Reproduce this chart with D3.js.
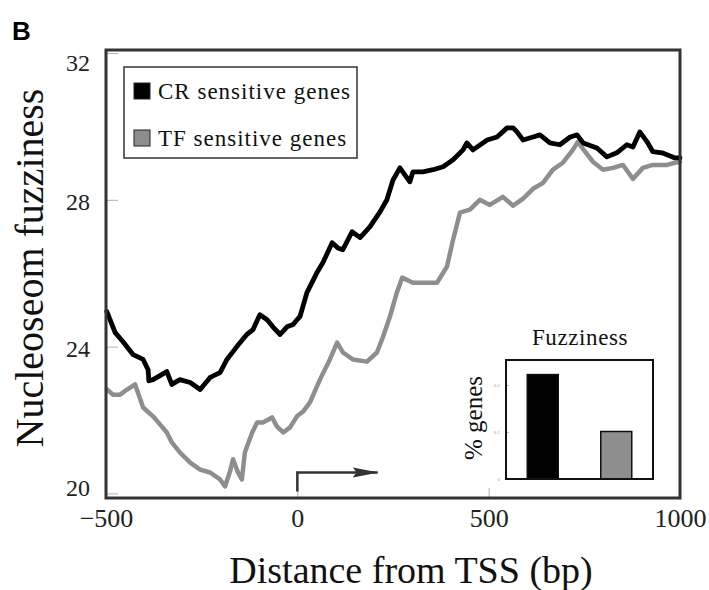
<!DOCTYPE html>
<html><head><meta charset="utf-8">
<script src="https://cdn.jsdelivr.net/npm/d3@7"></script>
<style>body{margin:0;background:#fff}svg{display:block}</style>
</head><body>
<svg id="c" width="709" height="590"></svg>
<script>
// ---- data ----
const crPos = [-498,-476,-456,-429,-403,-390,-388,-377,-341,-328,-307,-280,-254,-228,-202,-184,-158,-132,-116,-98,-79,-64,-45,-27,-11,-1,7,25,51,67,91,106,119,143,164,190,216,234,250,268,294,302,328,355,381,407,433,443,459,496,522,548,564,574,590,616,634,660,686,713,731,747,783,809,835,861,877,895,914,929,953,987,1000];
const crVal = [24.96,24.38,24.14,23.78,23.65,23.37,23.07,23.10,23.32,22.97,23.10,23.02,22.83,23.16,23.29,23.65,24.00,24.33,24.46,24.87,24.73,24.54,24.33,24.54,24.60,24.73,24.82,25.47,26.01,26.29,26.83,26.69,26.64,27.13,26.97,27.27,27.67,28.00,28.54,28.87,28.49,28.76,28.76,28.82,28.90,29.09,29.36,29.55,29.36,29.63,29.71,29.96,29.96,29.85,29.63,29.71,29.77,29.55,29.50,29.71,29.77,29.55,29.41,29.17,29.28,29.50,29.44,29.85,29.58,29.31,29.28,29.14,29.14];
const tfPos = [-497,-482,-463,-445,-424,-403,-377,-354,-341,-328,-307,-280,-254,-228,-202,-189,-176,-168,-155,-145,-137,-118,-105,-90,-66,-53,-37,-19,-1,15,33,59,85,104,119,145,182,208,224,242,260,274,302,328,365,391,407,425,451,477,503,537,564,590,616,642,668,694,720,733,752,773,799,825,851,877,903,929,966,987,1000];
const tfVal = [22.83,22.69,22.69,22.83,22.97,22.34,22.10,21.82,21.66,21.39,21.12,20.84,20.65,20.57,20.38,20.19,20.60,20.93,20.57,20.38,21.12,21.66,21.93,21.93,22.07,21.82,21.66,21.80,22.10,22.23,22.48,23.10,23.65,24.11,23.84,23.65,23.59,23.84,24.27,24.82,25.47,25.88,25.74,25.74,25.74,26.18,26.91,27.65,27.73,28.00,27.86,28.08,27.84,28.03,28.30,28.46,28.82,29.01,29.36,29.58,29.31,29.03,28.82,28.87,28.95,28.57,28.87,28.95,28.95,29.01,29.03];
const seriesNames = ["CR sensitive genes","TF sensitive genes"];
const xTicks = [-500,0,500,1000];
const yTicks = [20,24,28,32];
const insetCats = ["CR","TF"];
const insetVals = [0.222,0.101];
const insetTicks = [0,0.1,0.2];
const arrowPos = [0,0,210];
const arrowVal = [20.05,20.57,20.57];

// ---- layout ----
const svg = d3.select("#c");
const L=106,R=680,T=50,B=498;
const black="#000", gray="#8e8e8e";
const x = d3.scaleLinear().domain([-500,1000]).range([L,R]);
const y = d3.scaleLinear().domain([20,32]).range([493.4,53]);
const serif = "'Liberation Serif','Times New Roman',serif";

// panel label
svg.append("text").attr("x",12).attr("y",40).text("B")
  .attr("font-family","'Liberation Sans',Arial,sans-serif").attr("font-weight","bold").attr("font-size",26);

// axes
const ya = svg.append("g").attr("transform",`translate(${L},0)`)
  .call(d3.axisLeft(y).tickValues(yTicks).tickSize(-12).tickPadding(16).tickFormat(d3.format("d")));
ya.select(".domain").remove();
ya.selectAll("line").attr("stroke","#b0b0b0");
ya.selectAll("text").attr("font-family",serif).attr("font-size",24).attr("fill","#222")
  .attr("dy",d=> d===32? "0.72em" : d===20 ? "0.07em" : "0.42em");

const xa = svg.append("g").attr("transform",`translate(0,${B})`)
  .call(d3.axisBottom(x).tickValues(xTicks).tickSize(-10).tickFormat(d3.format("d")));
xa.select(".domain").remove();
xa.selectAll("line").attr("stroke","#b0b0b0");
xa.selectAll("text").attr("font-family",serif).attr("font-size",26).attr("fill","#222")
  .attr("y",29).attr("dy",0);

// titles
svg.append("text").attr("x",411).attr("y",583).attr("text-anchor","middle")
  .attr("font-family",serif).attr("font-size",38).attr("fill","#111").text("Distance from TSS (bp)");
svg.append("text").attr("transform","translate(43,268) rotate(-90)").attr("text-anchor","middle")
  .attr("font-family",serif).attr("font-size",40).attr("fill","#111").text("Nucleoseom fuzziness");

// lines
const line = d3.line().x(d=>x(d[0])).y(d=>y(d[1]));
const crData = crPos.map((p,i)=>[p,crVal[i]]);
const tfData = tfPos.map((p,i)=>[p,tfVal[i]]);
svg.append("path").datum(tfData).attr("d",line).attr("fill","none").attr("stroke",gray)
  .attr("stroke-width",4.5).attr("stroke-linejoin","round").attr("stroke-linecap","round");
svg.append("path").datum(crData).attr("d",line).attr("fill","none").attr("stroke",black)
  .attr("stroke-width",4.8).attr("stroke-linejoin","round").attr("stroke-linecap","round");

// TSS arrow
svg.append("defs").append("marker").attr("id","ah").attr("viewBox","0 0 26 12")
  .attr("refX",25).attr("refY",6).attr("markerWidth",26).attr("markerHeight",12)
  .attr("markerUnits","userSpaceOnUse").attr("orient","auto")
  .append("path").attr("d","M0,1 L26,6 L0,11 L4,6 Z").attr("fill","#333");
svg.append("path").datum(arrowPos.map((p,i)=>[p,arrowVal[i]])).attr("d",line)
  .attr("fill","none").attr("stroke","#333").attr("stroke-width",2.5).attr("marker-end","url(#ah)");

// frame
svg.append("rect").attr("x",L).attr("y",T).attr("width",R-L).attr("height",B-T)
  .attr("fill","none").attr("stroke","#333").attr("stroke-width",3);

// legend
const lg = svg.append("g");
lg.append("rect").attr("x",124).attr("y",67).attr("width",233).attr("height",91)
  .attr("fill","#fff").attr("stroke","#333").attr("stroke-width",1.5);
seriesNames.forEach((n,i)=>{
  const cy = 91 + i*47;
  lg.append("rect").attr("x",134).attr("y",cy-8).attr("width",16).attr("height",16)
    .attr("fill",i?gray:black).attr("stroke","#222").attr("stroke-width",1);
  lg.append("text").attr("x",158).attr("y",cy+8).attr("font-family",serif).attr("font-size",23)
    .attr("letter-spacing",1).attr("fill","#111").text(n);
});

// inset
const iL=506,iR=653,iT=360,iB=479;
const ix = d3.scalePoint().domain(insetCats).range([iL,iR]).padding(0.5);
const iy = d3.scaleLinear().domain([0,0.253]).range([iB,iT]);
const bw = 31;
svg.selectAll(".ibar").data(insetCats).enter().append("rect").attr("class","ibar")
  .attr("x",d=>ix(d)-bw/2).attr("width",bw)
  .attr("y",(d,i)=>iy(insetVals[i])).attr("height",(d,i)=>iB-iy(insetVals[i]))
  .attr("fill",(d,i)=>i?gray:black).attr("stroke","#111").attr("stroke-width",1.5);
const ia = svg.append("g").attr("transform",`translate(${iL},0)`)
  .call(d3.axisLeft(iy).tickValues(insetTicks).tickSize(-3).tickPadding(6).tickFormat(d=>d===0?"0":d3.format(".1f")(d)));
ia.select(".domain").remove();
ia.selectAll("line").attr("stroke","#bbb");
ia.selectAll("text").attr("font-family",serif).attr("font-size",5).attr("fill","#999");
svg.append("rect").attr("x",iL).attr("y",iT).attr("width",iR-iL).attr("height",iB-iT)
  .attr("fill","none").attr("stroke","#111").attr("stroke-width",2);
svg.append("text").attr("x",580).attr("y",345).attr("text-anchor","middle")
  .attr("font-family",serif).attr("font-size",23).attr("letter-spacing",0.6).attr("fill","#111").text("Fuzziness");
svg.append("text").attr("transform","translate(482,418) rotate(-90)").attr("text-anchor","middle")
  .attr("font-family",serif).attr("font-size",25).attr("fill","#111").text("% genes");
</script>
</body></html>
